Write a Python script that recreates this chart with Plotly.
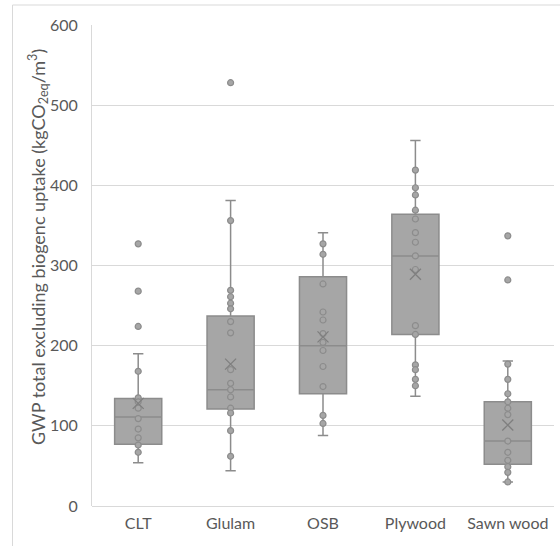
import plotly.graph_objects as go

categories = ["CLT", "Glulam", "OSB", "Plywood", "Sawn wood"]

# Box statistics
q1 = [77, 121, 140, 214, 52]
median = [111, 145, 200, 312, 81]
q3 = [134, 237, 286, 364, 130]
lower_whisker = [54, 44, 88, 137, 30]
upper_whisker = [190, 381, 341, 456, 181]
means = [128, 177, 211, 289, 101]

# Individual points (inner points and outliers)
clt_points = [327, 268, 224, 168, 135, 130, 122, 109, 96, 85, 76, 67]
glulam_points = [528, 356, 269, 261, 253, 246, 230, 216, 170, 153, 145, 136, 122, 116, 94, 62]
osb_points = [327, 314, 277, 242, 232, 215, 204, 194, 174, 149, 113, 103]
plywood_points = [419, 397, 388, 369, 358, 341, 329, 312, 295, 225, 214, 176, 170, 158, 150]
sawn_points = [337, 282, 177, 158, 140, 130, 122, 114, 81, 67, 57, 49, 42, 30]

all_points = [clt_points, glulam_points, osb_points, plywood_points, sawn_points]

y_ticks = [0, 100, 200, 300, 400, 500, 600]

FONT = "Lato"
TXT = "#595959"
BOX_FILL = "#a6a6a6"
BOX_LINE = "#8c8c8c"

fig = go.Figure()

fig.add_trace(go.Box(
    x=categories,
    q1=q1, median=median, q3=q3,
    lowerfence=lower_whisker, upperfence=upper_whisker,
    boxpoints=False,
    fillcolor=BOX_FILL,
    line=dict(color=BOX_LINE, width=1.5),
    width=0.51,
    whiskerwidth=0.22,
    showlegend=False,
    hoverinfo="skip",
))

px_x, px_y = [], []
for cat, pts in zip(categories, all_points):
    px_x += [cat] * len(pts)
    px_y += pts

fig.add_trace(go.Scatter(
    x=px_x, y=px_y, mode="markers",
    marker=dict(size=6, color=BOX_FILL, line=dict(color=BOX_LINE, width=1.2)),
    showlegend=False, hoverinfo="skip",
))

fig.add_trace(go.Scatter(
    x=categories, y=means, mode="markers",
    marker=dict(symbol="x-thin-open", size=11, color="#7f7f7f",
                line=dict(color="#7f7f7f", width=1.3)),
    showlegend=False, hoverinfo="skip",
))

fig.update_layout(
    width=560, height=546,
    margin=dict(l=92, r=6, t=25, b=40),
    paper_bgcolor="white", plot_bgcolor="white",
    font=dict(family=FONT, size=16, color=TXT),
    xaxis=dict(
        type="category", categoryorder="array", categoryarray=categories,
        range=[-0.5, 4.5],
        showgrid=False, showline=False, zeroline=False,
        ticks="", tickfont=dict(family=FONT, size=16, color=TXT),
        ticklabelstandoff=6,
    ),
    yaxis=dict(
        range=[0, 600], tickvals=y_ticks,
        showgrid=True, gridcolor="#d9d9d9", gridwidth=1,
        showline=True, linecolor="#d9d9d9", linewidth=1,
        zeroline=True, zerolinecolor="#d9d9d9", zerolinewidth=1,
        ticks="", tickfont=dict(family=FONT, size=16, color=TXT),
        ticklabelstandoff=10,
    ),
    annotations=[dict(
        text="GWP total excluding biogenc uptake (kgCO<sub>2eq</sub>/m<sup>3</sup>)",
        xref="paper", yref="paper",
        x=(38 - 92) / 462, y=(506 - 247) / 481,
        xanchor="center", yanchor="middle",
        textangle=-90, showarrow=False,
        font=dict(family=FONT, size=18, color=TXT),
    )],
    shapes=[dict(
        type="rect", xref="paper", yref="paper",
        x0=(12.5 - 92) / 462, x1=1.2,
        y0=-0.3, y1=(506 - 5) / 481,
        line=dict(color="#d9d9d9", width=1), fillcolor="rgba(0,0,0,0)",
        layer="below",
    )],
)

fig.write_html("out.html")
